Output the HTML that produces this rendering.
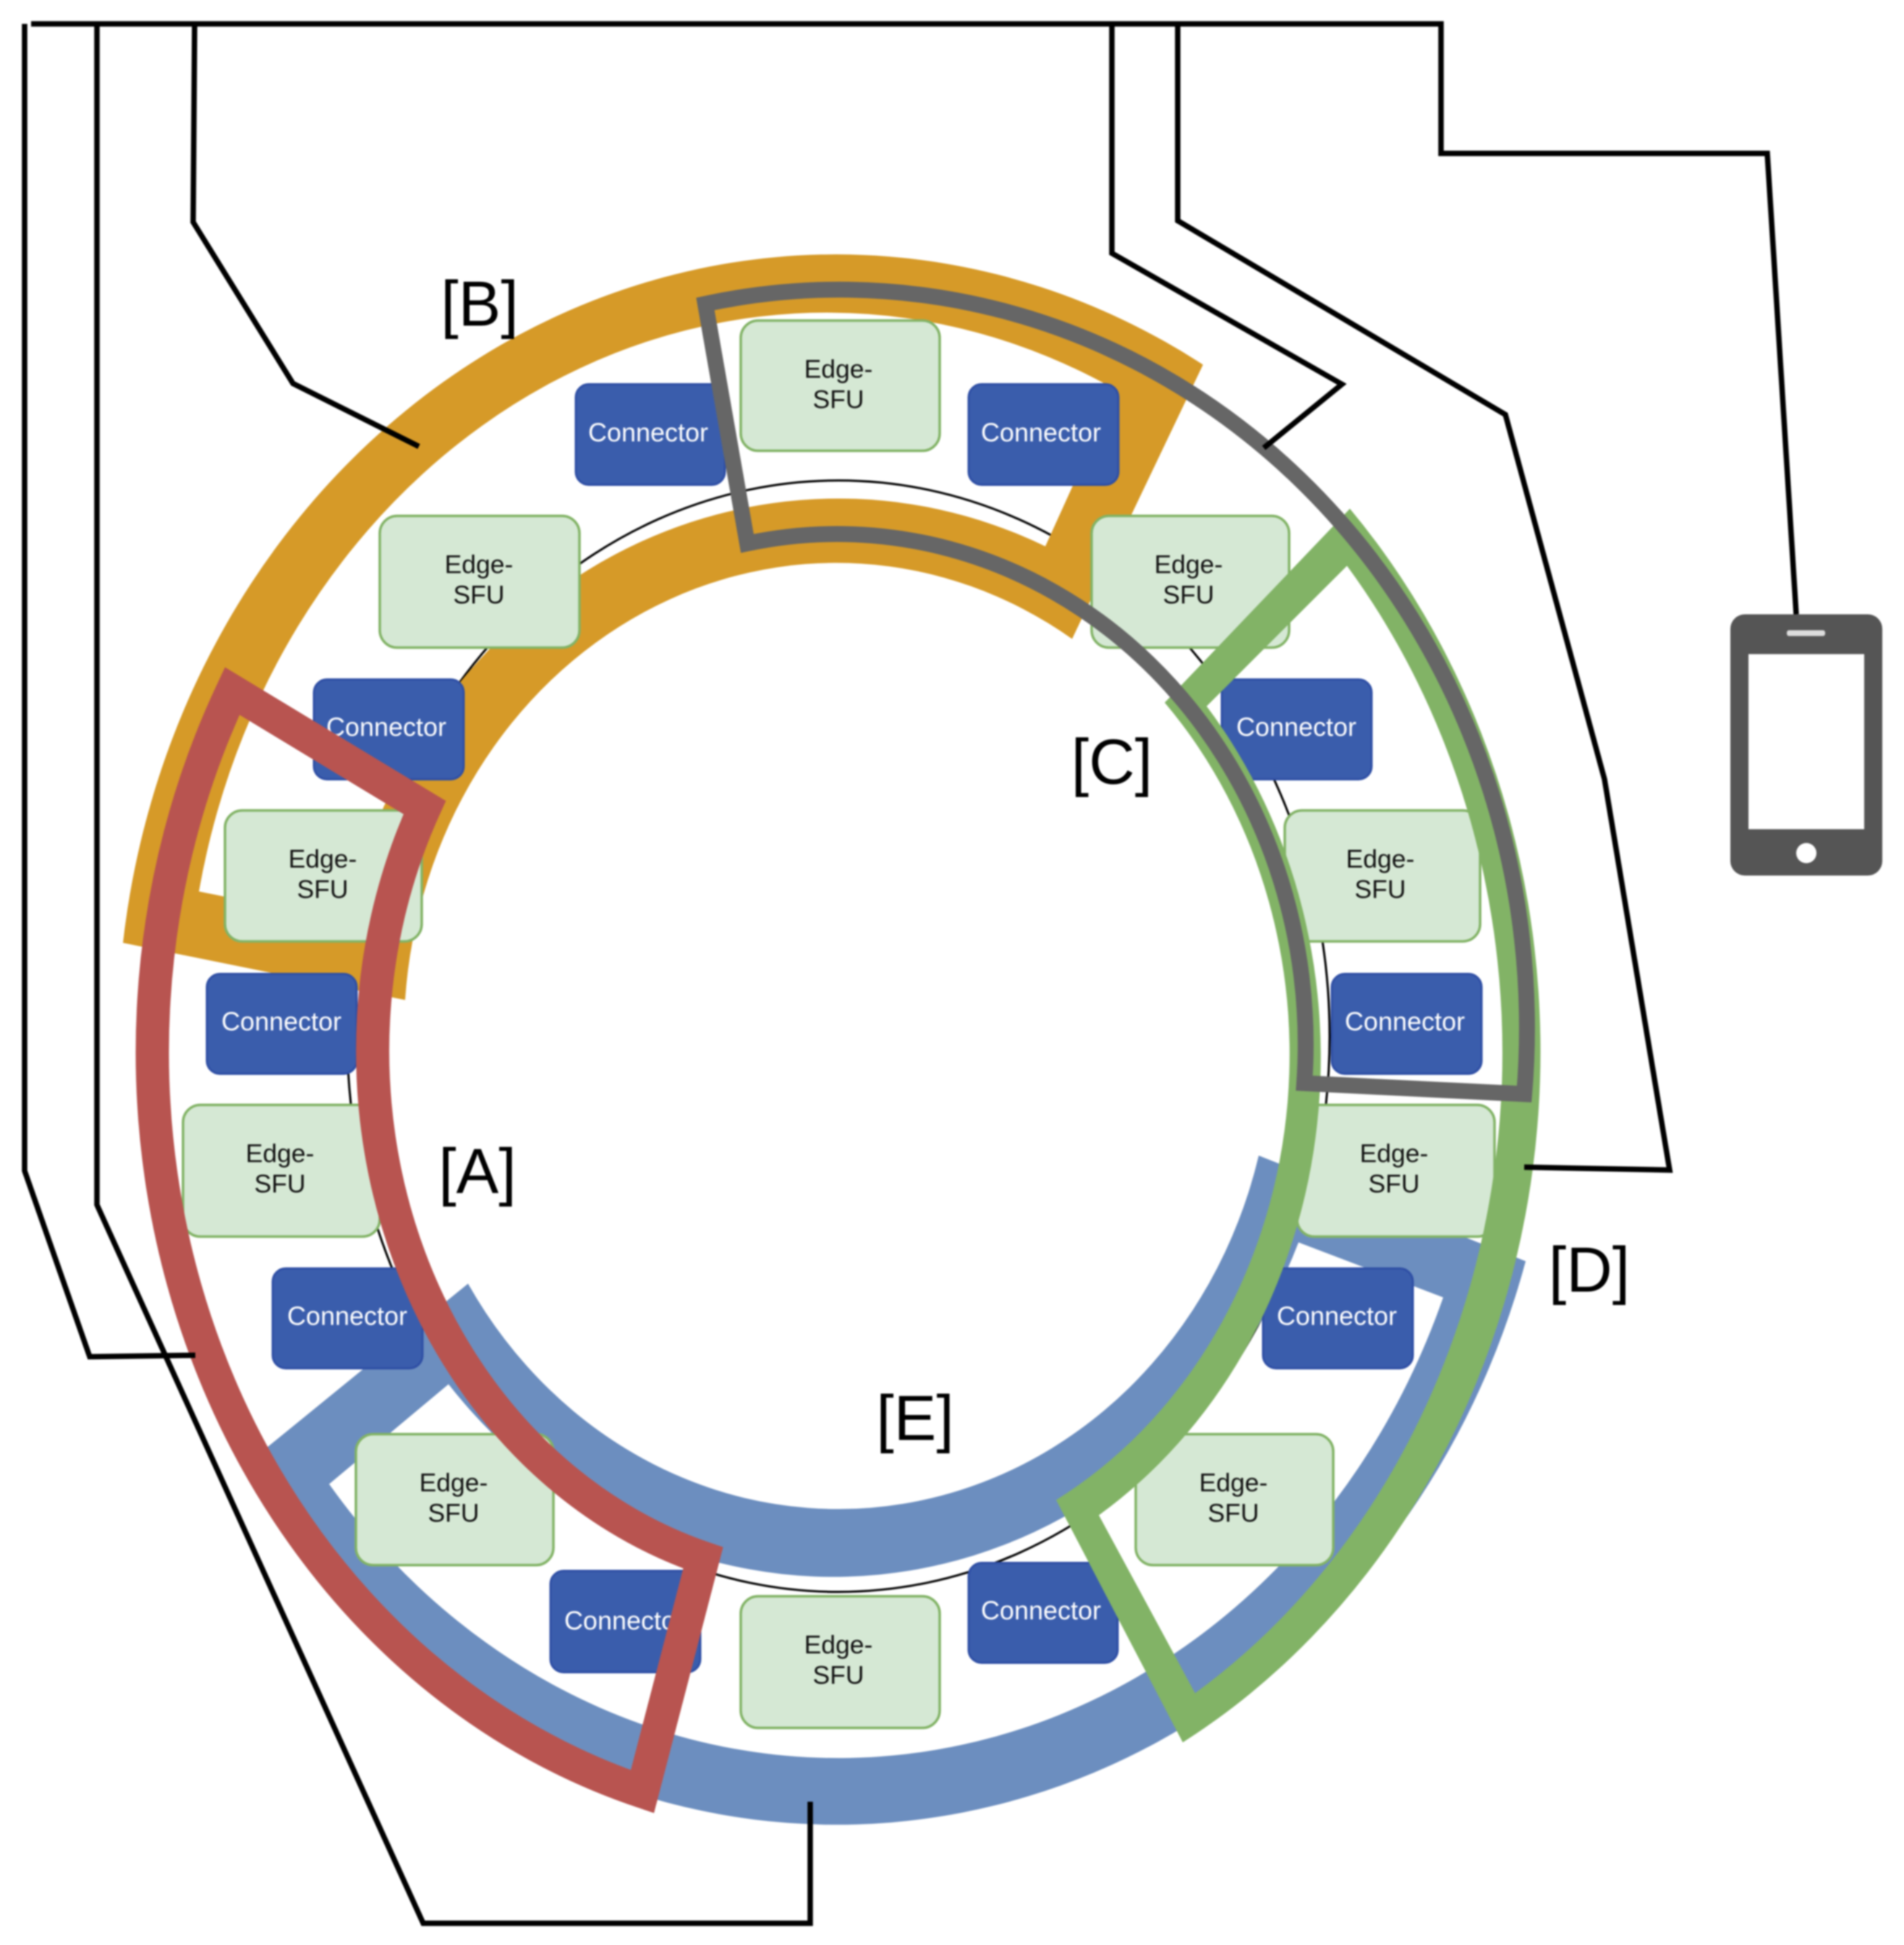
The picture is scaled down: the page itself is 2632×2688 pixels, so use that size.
<!DOCTYPE html>
<html><head><meta charset="utf-8">
<style>html,body{margin:0;padding:0;background:#fff}svg{display:block;filter:blur(1px)}
.l{font-family:"Liberation Sans",sans-serif;font-size:88px;fill:#000;text-anchor:middle}
.c{font-family:"Liberation Sans",sans-serif;font-size:36px;fill:#fff;text-anchor:middle}
.e{font-family:"Liberation Sans",sans-serif;font-size:35.5px;fill:#111;text-anchor:middle}
.cb{fill:#3a5dac;stroke:#2f4fa5;stroke-width:3}
.eb{fill:#d5e8d4;stroke:#82b366;stroke-width:3.5}
</style></head><body>
<svg xmlns="http://www.w3.org/2000/svg" width="2632" height="2688" viewBox="0 0 2632 2688">
<rect width="2632" height="2688" fill="#fff"/>
<ellipse cx="1159" cy="1432" rx="679" ry="768" fill="none" stroke="#000" stroke-width="3"/>

<!-- orange -->
<path fill="#d69a28" fill-rule="evenodd" d="M170,1303 A993,1085 0 0 1 1663,504 L1482,883 A598,652 0 0 0 560,1382 Z
M275,1232 A885,992 0 0 1 1543,539 L1445,755 A695,744 0 0 0 480,1273 Z"/>
<!-- blue -->
<path fill="#6c8ebf" fill-rule="evenodd" d="M2109,1743 A993,1085 0 0 1 900,2485 A948,1066 0 0 1 345,2020 L647,1774 A600,651 0 0 0 1740,1597 Z
M1795,1717 L1995,1793 A897,997 0 0 1 455,2051 L620,1913 A695,746 0 0 0 1795,1717 Z"/>

<!-- connectors -->
<g class="cb">
<rect x="796" y="531" width="206" height="139" rx="18"/>
<rect x="1339" y="531" width="207" height="139" rx="18"/>
<rect x="434" y="939" width="207" height="138" rx="18"/>
<rect x="1689" y="939" width="207" height="138" rx="18"/>
<rect x="286" y="1346" width="207" height="138" rx="18"/>
<rect x="1841" y="1346" width="207" height="138" rx="18"/>
<rect x="377" y="1753" width="207" height="138" rx="18"/>
<rect x="1746" y="1753" width="207" height="138" rx="18"/>
<rect x="761" y="2171" width="207" height="140" rx="18"/>
<rect x="1339" y="2160" width="206" height="138" rx="18"/>
</g>
<g class="c">
<text x="896" y="610">Connector</text>
<text x="1439" y="610">Connector</text>
<text x="534" y="1017">Connector</text>
<text x="1792" y="1017">Connector</text>
<text x="389" y="1424">Connector</text>
<text x="1942" y="1424">Connector</text>
<text x="480" y="1831">Connector</text>
<text x="1848" y="1831">Connector</text>
<text x="863" y="2252">Connector</text>
<text x="1439" y="2238">Connector</text>
</g>

<!-- edge-sfu -->
<g class="eb">
<rect x="1024" y="443" width="275" height="180" rx="24"/>
<rect x="525" y="713" width="276" height="182" rx="24"/>
<rect x="311" y="1120" width="272" height="181" rx="24"/>
<rect x="253" y="1527" width="272" height="182" rx="24"/>
<rect x="492" y="1982" width="273" height="181" rx="24"/>
<rect x="1024" y="2206" width="275" height="182" rx="24"/>
<rect x="1570" y="1982" width="273" height="181" rx="24"/>
<rect x="1793" y="1527" width="273" height="182" rx="24"/>
<rect x="1776" y="1120" width="270" height="181" rx="24"/>
<rect x="1509" y="713" width="273" height="182" rx="24"/>
</g>
<g class="e">
<text x="1159" y="522">Edge-</text><text x="1159" y="564">SFU</text>
<text x="662" y="792">Edge-</text><text x="662" y="834">SFU</text>
<text x="446" y="1199">Edge-</text><text x="446" y="1241">SFU</text>
<text x="387" y="1606">Edge-</text><text x="387" y="1648">SFU</text>
<text x="627" y="2061">Edge-</text><text x="627" y="2103">SFU</text>
<text x="1159" y="2285">Edge-</text><text x="1159" y="2327">SFU</text>
<text x="1705" y="2061">Edge-</text><text x="1705" y="2103">SFU</text>
<text x="1927" y="1606">Edge-</text><text x="1927" y="1648">SFU</text>
<text x="1908" y="1199">Edge-</text><text x="1908" y="1241">SFU</text>
<text x="1643" y="792">Edge-</text><text x="1643" y="834">SFU</text>
</g>

<!-- red, green, gray outlines -->
<path fill="none" stroke="#b85450" stroke-width="46" stroke-linejoin="miter" stroke-miterlimit="6" d="M321,955 A948,1066 0 0 0 888,2476 L972,2153 A643,732 0 0 1 587,1116 Z"/>
<path fill="#82b366" fill-rule="evenodd" d="M1866,703 A972,1096 0 0 1 1635,2408 L1460,2073 A625,704 0 0 0 1610,971 Z
M1862,782 A926,1051 0 0 1 2076,1500 A918,1052 0 0 1 1652,2340 L1519,2094 A668,752 0 0 0 1668,976 Z"/>
<path fill="none" stroke="#666" stroke-width="22" stroke-linejoin="miter" stroke-miterlimit="6" d="M975,420 A950,1020 0 0 1 2107,1512 L1803,1497 A648,705 0 0 0 1033,751 Z"/>

<!-- black leader lines -->
<g fill="none" stroke="#000" stroke-width="7.5" stroke-linejoin="miter">
<path d="M43,33 H1992 V212 H2443 L2483,849"/>
<path d="M34,33 V1618 L124,1875 L270,1873"/>
<path d="M134,33 V1665 L585,2658 H1120 V2490"/>
<path d="M269,33 L267,307 L405,530 L579,617"/>
<path d="M1537,33 V350 L1855,531 L1747,619"/>
<path d="M1628,33 V305 L2081,573 L2218,1077 L2308,1617 L2107,1613"/>
</g>

<!-- phone -->
<rect x="2392" y="849" width="210" height="361" rx="20" fill="#555"/>
<rect x="2417" y="904" width="160" height="242" fill="#fff"/>
<circle cx="2497" cy="1179" r="14" fill="#fff"/>
<rect x="2470" y="871" width="53" height="8" rx="3" fill="#ddd"/>

<!-- labels -->
<text class="l" x="663" y="450">[B]</text>
<text class="l" x="1537" y="1083">[C]</text>
<text class="l" x="660" y="1649">[A]</text>
<text class="l" x="1265" y="1990">[E]</text>
<text class="l" x="2197" y="1785">[D]</text>
</svg>
</body></html>
